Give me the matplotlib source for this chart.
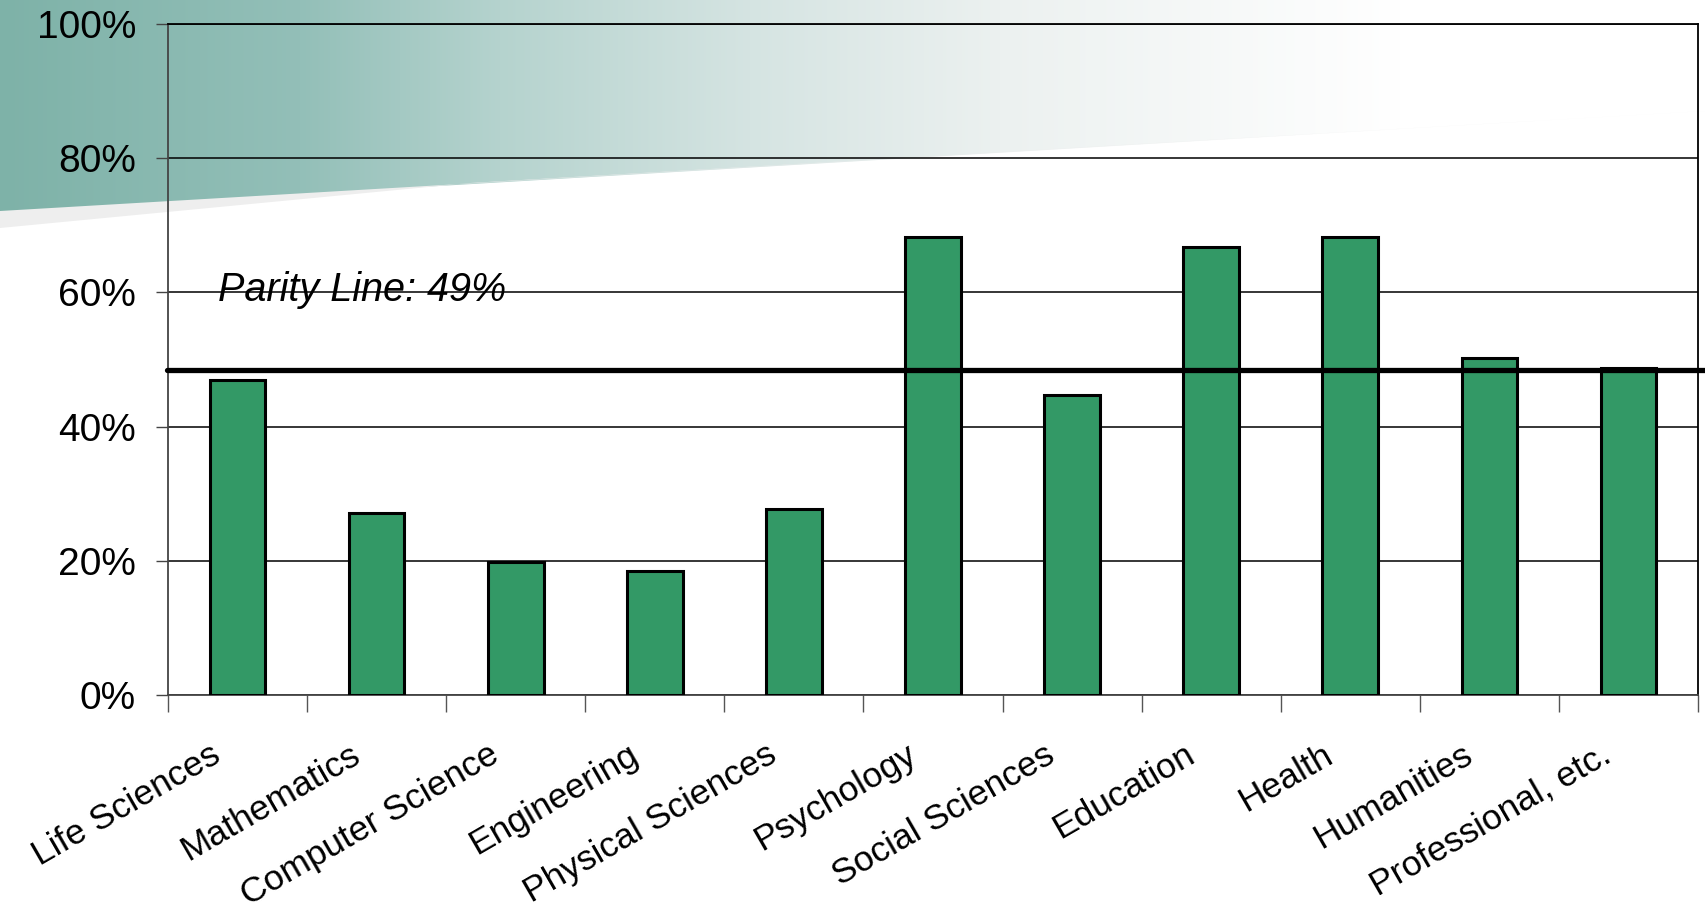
import numpy as np
import matplotlib
matplotlib.use("Agg")
import matplotlib.pyplot as plt
from matplotlib.patches import Polygon
from matplotlib.transforms import ScaledTranslation

plt.rcParams['font.family'] = ['Liberation Sans', 'DejaVu Sans']

# Data
fields = ["Life Sciences", "Mathematics", "Computer Science", "Engineering",
          "Physical Sciences", "Psychology", "Social Sciences", "Education",
          "Health", "Humanities", "Professional, etc."]
share = [47.0, 27.1, 19.8, 18.5, 27.7, 68.2, 44.7, 66.8, 68.2, 50.2, 48.8]
parity = 48.4
parity_label = "Parity Line: 49%"
yticks = [0, 20, 40, 60, 80, 100]

W, H = 1705, 913
fig = plt.figure(figsize=(W / 100, H / 100), dpi=100)

# Background decoration (teal gradient band, grey shadow)
bg = fig.add_axes([0, 0, 1, 1], zorder=0)
bg.set_xlim(0, W)
bg.set_ylim(H, 0)
bg.axis('off')
stops_x = [0, 300, 500, 750, 1000, 1400, W]
stops_c = np.array([[126, 178, 168], [147, 191, 184], [181, 211, 206],
                    [213, 228, 226], [236, 241, 240], [255, 255, 255],
                    [255, 255, 255]]) / 255.0
xs = np.arange(W)
grad = np.stack([np.interp(xs, stops_x, stops_c[:, k]) for k in range(3)], axis=-1)
grad = grad[np.newaxis, :, :]
shadow = Polygon([(0, 211), (0, 228), (470, 183), (W, 111)], closed=True,
                 facecolor='#eeeeee', edgecolor='none')
bg.add_patch(shadow)
band = Polygon([(0, 0), (W, 0), (W, 111), (0, 212)], closed=True,
               facecolor='none', edgecolor='none')
bg.add_patch(band)
im = bg.imshow(grad, extent=[0, W, 213, 0], aspect='auto', interpolation='bilinear')
im.set_clip_path(band)

# Main chart
ax = fig.add_axes([168 / W, 1 - 695 / H, (1698 - 168) / W, (695 - 24) / H], zorder=1)
ax.set_facecolor('none')
x = np.arange(len(fields))
ax.bar(x, share, width=0.4, color='#339966', edgecolor='black', linewidth=2.2, zorder=3)
ax.set_xlim(-0.5, len(fields) - 0.5)
ax.set_ylim(0, 100)
ax.set_yticks(yticks)
ax.set_yticklabels([f"{v}%" for v in yticks], fontsize=28)
ax.yaxis.grid(True, color='black', linewidth=1.1, zorder=1)
ax.set_axisbelow(True)
ax.tick_params(axis='y', length=9, width=1, color='#444444', pad=14)

ax.set_xticks(np.arange(len(fields) + 1) - 0.5)
ax.set_xticklabels([])
ax.tick_params(axis='x', which='major', length=12, width=1, color='#555555')
ax.set_xticks(x, minor=True)
ax.set_xticklabels(fields, minor=True, rotation=30, ha='right', va='top',
                   rotation_mode='anchor', fontsize=25.5)
ax.tick_params(axis='x', which='minor', length=0, pad=31)
offset = ScaledTranslation(-0.28, 0, fig.dpi_scale_trans)
for lab in ax.get_xticklabels(minor=True):
    lab.set_transform(lab.get_transform() + offset)

for side in ['top', 'right']:
    ax.spines[side].set_color('black')
    ax.spines[side].set_linewidth(1.3)
for side in ['left', 'bottom']:
    ax.spines[side].set_color('#444444')
    ax.spines[side].set_linewidth(1.3)

# Parity line
ax.plot([-0.51, len(fields) - 0.45], [parity, parity], color='black', linewidth=3.8,
        solid_capstyle='round', clip_on=False, zorder=4)
ax.text(-0.14, 60.4, parity_label, fontsize=28.5, style='italic', ha='left', va='center',
        zorder=5)

fig.savefig('out.png', dpi=100)
